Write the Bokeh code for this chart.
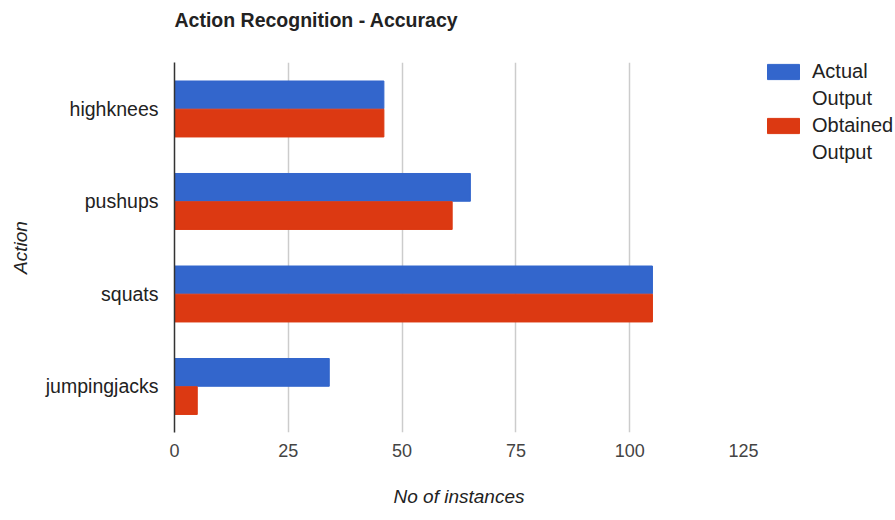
from bokeh.plotting import figure
from bokeh.models import ColumnDataSource, Range1d, Legend, LegendItem, FixedTicker, Title
from bokeh.transform import dodge
from bokeh.embed import file_html
from bokeh.resources import INLINE

actions = ["highknees", "pushups", "squats", "jumpingjacks"]
actual_output = [46, 65, 105, 34]
obtained_output = [46, 61, 105, 5]
x_ticks = [0, 25, 50, 75, 100, 125]
series_names = [("Actual", "Output"), ("Obtained", "Output")]

FONT = "Liberation Sans"
FW, FH = 569, 370

src = ColumnDataSource(dict(action=actions, actual=actual_output, obtained=obtained_output))

p = figure(frame_width=FW, frame_height=FH, y_range=list(reversed(actions)), x_range=Range1d(0, 125),
           output_backend="svg", toolbar_location=None, title=None,
           min_border_left=174, min_border_right=152, min_border_top=62, min_border_bottom=88)
p.background_fill_color = "white"
p.border_fill_color = "white"
p.outline_line_color = None

r1 = p.hbar(y=dodge("action", 0.15, range=p.y_range), left=0, right="actual", height=0.3,
            source=src, fill_color="#3366cc", line_color="#3366cc")
r2 = p.hbar(y=dodge("action", -0.155, range=p.y_range), left=0, right="obtained", height=0.3,
            source=src, fill_color="#dc3912", line_color="#dc3912")
# invisible renderer used for the second line of each legend entry
blank = p.hbar(y=[], left=[], right=[], height=0.3, fill_alpha=0, line_alpha=0)

# spacer between the title and the plot area, then the title itself
p.add_layout(Title(text=" ", text_font_size="1px", standoff=29), "above")
p.add_layout(Title(text="Action Recognition - Accuracy", text_font=FONT, text_font_style="bold",
                   text_font_size="19.5px", text_color="#222222", standoff=0, align="left"), "above")

p.xaxis.ticker = FixedTicker(ticks=x_ticks)
p.xgrid.ticker = FixedTicker(ticks=x_ticks)
p.xgrid.grid_line_color = "#cccccc"
p.xgrid.grid_line_width = 1.5
p.ygrid.grid_line_color = None

p.xaxis.axis_line_color = None
p.xaxis.major_tick_line_color = None
p.xaxis.minor_tick_line_color = None
p.xaxis.major_label_text_font = FONT
p.xaxis.major_label_text_font_size = "18px"
p.xaxis.major_label_text_color = "#444444"
p.xaxis.major_label_standoff = 5
p.xaxis.axis_label = "No of instances"
p.xaxis.axis_label_text_font = FONT
p.xaxis.axis_label_text_font_style = "italic"
p.xaxis.axis_label_text_font_size = "19px"
p.xaxis.axis_label_text_color = "#222222"
p.xaxis.axis_label_standoff = 26

p.yaxis.axis_line_color = "#333333"
p.yaxis.axis_line_width = 1.5
p.yaxis.major_tick_line_color = None
p.yaxis.minor_tick_line_color = None
p.yaxis.major_label_text_font = FONT
p.yaxis.major_label_text_font_size = "19.5px"
p.yaxis.major_label_text_color = "#222222"
p.yaxis.major_label_standoff = 10
p.yaxis.axis_label = "Action"
p.yaxis.axis_label_text_font = FONT
p.yaxis.axis_label_text_font_style = "italic"
p.yaxis.axis_label_text_font_size = "19px"
p.yaxis.axis_label_text_color = "#222222"
p.yaxis.axis_label_standoff = 12

legend = Legend(items=[LegendItem(label=series_names[0][0], renderers=[r1]),
                       LegendItem(label=series_names[0][1], renderers=[blank]),
                       LegendItem(label=series_names[1][0], renderers=[r2]),
                       LegendItem(label=series_names[1][1], renderers=[blank])],
                location=(20, FH - 102))
legend.border_line_color = None
legend.background_fill_alpha = 0
legend.glyph_width = 40
legend.glyph_height = 19
legend.label_height = 22
legend.label_standoff = 9
legend.label_text_font = FONT
legend.label_text_font_size = "20px"
legend.label_text_color = "#222222"
legend.spacing = 4
legend.padding = 0
legend.margin = 0
p.add_layout(legend, "right")

open("out.html", "w").write(file_html(p, INLINE))
